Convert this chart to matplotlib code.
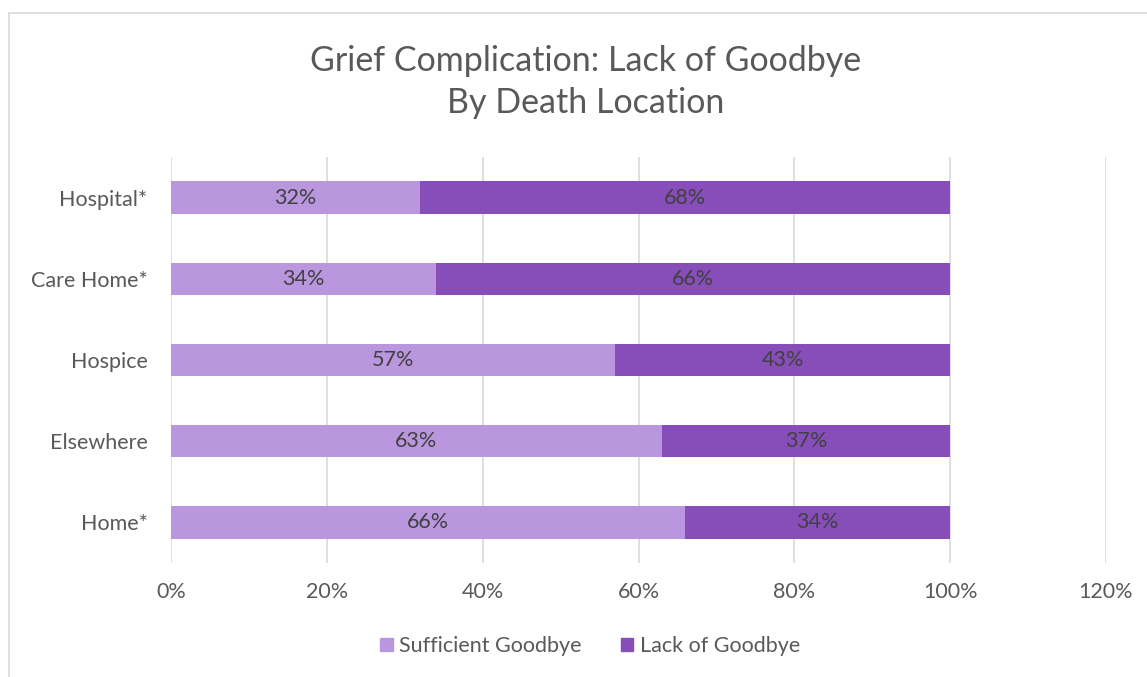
import matplotlib
matplotlib.use('Agg')
import matplotlib.pyplot as plt
from matplotlib.patches import Rectangle, Patch

categories = ['Home*', 'Elsewhere', 'Hospice', 'Care Home*', 'Hospital*']
sufficient = [66, 63, 57, 34, 32]
lack = [34, 37, 43, 66, 68]
xticks = [0, 20, 40, 60, 80, 100, 120]

light = '#B996DD'
dark = '#874DB9'
text_col = '#595959'

plt.rcParams['font.family'] = ['Lato', 'DejaVu Sans']

W, H = 1147, 677
fig = plt.figure(figsize=(W / 100, H / 100), dpi=100)

# chart-area border (runs off the image on the right and bottom)
fig.patches.append(Rectangle((9 / W, -1), 2, 2 - 13 / H, transform=fig.transFigure,
                             fill=False, edgecolor='#D9D9D9', linewidth=1.2))

ax = fig.add_axes([171 / W, 1 - 563 / H, (1106 - 171) / W, (563 - 157) / H])

y = range(len(categories))
ax.barh(y, sufficient, height=0.4, color=light, label='Sufficient Goodbye')
ax.barh(y, lack, left=sufficient, height=0.4, color=dark, label='Lack of Goodbye')

fs = 15.5
for i in y:
    ax.text(sufficient[i] / 2, i, f'{sufficient[i]}%', ha='center', va='center',
            fontsize=fs, color='#404040')
    ax.text(sufficient[i] + lack[i] / 2, i, f'{lack[i]}%', ha='center', va='center',
            fontsize=fs, color='#404040')

ax.set_xlim(0, 120)
ax.set_ylim(-0.5, len(categories) - 0.5)
ax.set_xticks(xticks)
ax.set_xticklabels([f'{t}%' for t in xticks])
ax.set_yticks(list(y))
ax.set_yticklabels(categories)
ax.tick_params(length=0, labelsize=fs, labelcolor=text_col)
ax.tick_params(axis='x', pad=14)
ax.tick_params(axis='y', pad=17)
ax.xaxis.grid(True, color='#D9D9D9', linewidth=1.2)
ax.set_axisbelow(True)
for s in ax.spines.values():
    s.set_visible(False)

fig.text(586 / W, 1 - 82 / H, 'Grief Complication: Lack of Goodbye\nBy Death Location',
         ha='center', va='center', fontsize=24.5, color=text_col, linespacing=1.4)

handles = [Patch(color=light), Patch(color=dark)]
fig.legend(handles, ['Sufficient Goodbye', 'Lack of Goodbye'], loc='center',
           bbox_to_anchor=(590 / W, 1 - 646 / H), ncol=2, frameon=False,
           fontsize=fs, labelcolor=text_col, handlelength=0.6, handleheight=0.6,
           handletextpad=0.3, columnspacing=1.8)

fig.savefig('out.png', dpi=100)
